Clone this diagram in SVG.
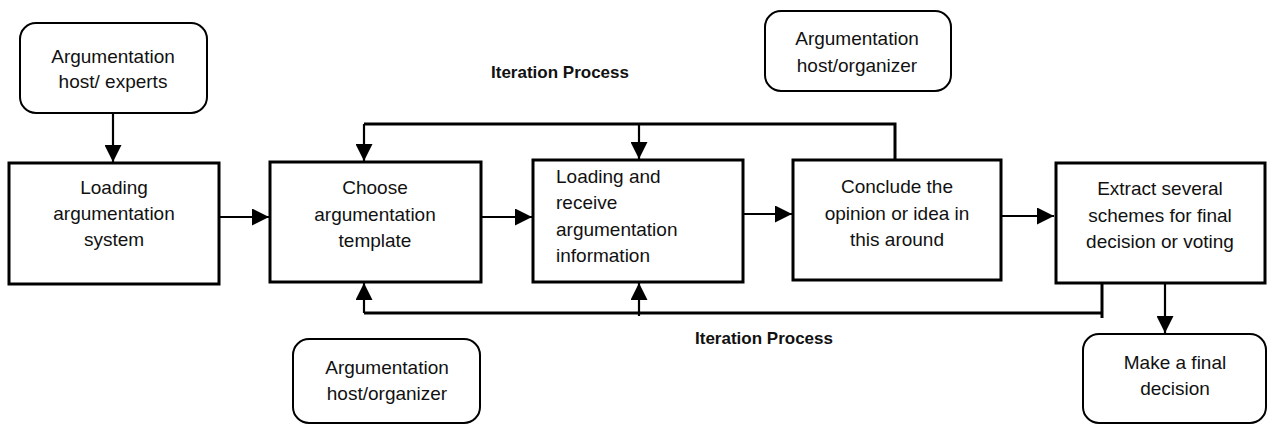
<svg xmlns="http://www.w3.org/2000/svg" width="1268" height="426" viewBox="0 0 1268 426">
  <defs>
    <marker id="arrow" viewBox="0 0 10 10" refX="10" refY="5" markerWidth="17" markerHeight="17" markerUnits="userSpaceOnUse" orient="auto">
      <path d="M0,0 L10,5 L0,10 Z" fill="#000"/>
    </marker>
    <style>
      .box { fill: #fff; stroke: #000; stroke-width: 3; }
      .actor { fill: #fff; stroke: #000; stroke-width: 2; }
      .lbl { font-family: "Liberation Sans", Arial, sans-serif; font-size: 19px; fill: #111; }
      .mid { text-anchor: middle; }
      .title { font-family: "Liberation Sans", Arial, sans-serif; font-size: 17px; font-weight: bold; fill: #111; text-anchor: middle; }
      .wire { fill: none; stroke: #000; stroke-width: 2.2; }
      .loop { fill: none; stroke: #000; stroke-width: 3; }
    </style>
  </defs>
  <rect width="1268" height="426" fill="#fff"/>

  <!-- connectors -->
  <g id="connectors">
    <line class="wire" x1="113" y1="113" x2="113" y2="162" marker-end="url(#arrow)"/>
    <line class="wire" x1="219" y1="217" x2="269" y2="217" marker-end="url(#arrow)"/>
    <line class="wire" x1="481" y1="217" x2="532" y2="217" marker-end="url(#arrow)"/>
    <line class="wire" x1="743" y1="214" x2="792" y2="214" marker-end="url(#arrow)"/>
    <line class="wire" x1="1001" y1="216" x2="1054" y2="216" marker-end="url(#arrow)"/>
    <line class="wire" x1="1165" y1="283" x2="1165" y2="333" marker-end="url(#arrow)"/>
    <!-- upper iteration loop -->
    <polyline class="loop" points="895,160 895,124 364,124"/>
    <line class="wire" x1="364" y1="124" x2="364" y2="161" marker-end="url(#arrow)"/>
    <line class="wire" x1="639" y1="124" x2="639" y2="159" marker-end="url(#arrow)"/>
    <!-- lower iteration loop -->
    <polyline class="loop" points="1102,283 1102,318"/>
    <line class="loop" x1="1102" y1="313" x2="364" y2="313"/>
    <line class="wire" x1="364" y1="313" x2="364" y2="283" marker-end="url(#arrow)"/>
    <line class="wire" x1="639" y1="316" x2="639" y2="283" marker-end="url(#arrow)"/>
  </g>

  <text class="title" x="560" y="78">Iteration Process</text>
  <text class="title" x="764" y="344">Iteration Process</text>

  <g id="host-experts">
    <rect class="actor" x="20" y="23" width="187" height="90" rx="16"/>
    <text class="lbl mid" x="113" y="63">Argumentation</text>
    <text class="lbl mid" x="113" y="88">host/ experts</text>
  </g>

  <g id="loading-system">
    <rect class="box" x="9" y="163" width="210" height="121"/>
    <text class="lbl mid" x="114" y="194">Loading</text>
    <text class="lbl mid" x="114" y="220">argumentation</text>
    <text class="lbl mid" x="114" y="246">system</text>
  </g>

  <g id="choose-template">
    <rect class="box" x="270" y="162" width="211" height="120"/>
    <text class="lbl mid" x="375" y="194">Choose</text>
    <text class="lbl mid" x="375" y="221">argumentation</text>
    <text class="lbl mid" x="375" y="247">template</text>
  </g>

  <g id="receive-information">
    <rect class="box" x="533" y="160" width="210" height="122"/>
    <text class="lbl" x="556" y="183">Loading and</text>
    <text class="lbl" x="556" y="209">receive</text>
    <text class="lbl" x="556" y="236">argumentation</text>
    <text class="lbl" x="556" y="262">information</text>
  </g>

  <g id="conclude-opinion">
    <rect class="box" x="793" y="160" width="208" height="120"/>
    <text class="lbl mid" x="897" y="193">Conclude the</text>
    <text class="lbl mid" x="897" y="220">opinion or idea in</text>
    <text class="lbl mid" x="897" y="246">this around</text>
  </g>

  <g id="extract-schemes">
    <rect class="box" x="1056" y="163" width="209" height="120"/>
    <text class="lbl mid" x="1160" y="195">Extract several</text>
    <text class="lbl mid" x="1160" y="222">schemes for final</text>
    <text class="lbl mid" x="1160" y="248">decision or voting</text>
  </g>

  <g id="host-organizer-top">
    <rect class="actor" x="765" y="11" width="186" height="80" rx="16"/>
    <text class="lbl mid" x="857" y="45">Argumentation</text>
    <text class="lbl mid" x="857" y="72">host/organizer</text>
  </g>

  <g id="host-organizer-bottom">
    <rect class="actor" x="293" y="339" width="187" height="84" rx="16"/>
    <text class="lbl mid" x="387" y="374">Argumentation</text>
    <text class="lbl mid" x="387" y="400">host/organizer</text>
  </g>

  <g id="final-decision">
    <rect class="actor" x="1083" y="334" width="183" height="89" rx="16"/>
    <text class="lbl mid" x="1175" y="369">Make a final</text>
    <text class="lbl mid" x="1175" y="395">decision</text>
  </g>
</svg>
